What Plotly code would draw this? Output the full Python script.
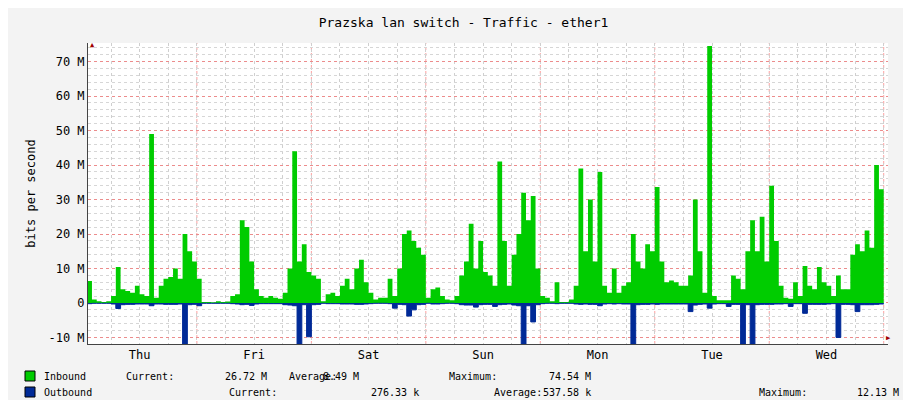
import plotly.graph_objects as go

hours = list(range(1, 169))
inbound = [6.4,1,0.5,0.3,0.5,2,10.4,4,3.5,3,5,2.5,
           2,49,1.5,5,7,7.5,10,7,20,15,12,7,
           0.3,0.3,0.2,0.5,0.3,0.4,2,2.5,24,22,12,4,
           2,1.5,2,1.5,1.2,3,10,44,12,17,9,8,
           7,0.5,2.5,3,2,5,7,4,10,12.5,6,3,
           1,1.5,1.5,7,2,10,20,21,18,16,14,1.5,
           4,4.5,2,1,0.8,2,8,12,23,10,18,9,
           8,5,41,18,5,14,20,32,24,31,10,2,
           1.5,0.5,6,0.3,0.3,1,5,39,15,30,12,38,
           5,3,10,3,5,6,20,12,10,17,15,33.6,
           12,6,6.5,6,5,5,8,30,15,3,74.54,2,
           0.8,0.8,0.8,8,7,4,15,24,15,25,12,34,
           18,5,1.5,1.2,6,2,10.7,5,4,10.4,6,5,
           2,8,4,4,14,17,15,21,16,40,33,26.72]
outbound = [0.2,0.1,0.1,0.1,0.1,0.3,1.6,0.5,0.4,0.4,0.3,0.3,
            0.3,0.8,0.3,0.3,0.4,0.4,0.4,0.3,12.13,0.5,0.4,0.8,
            0.1,0.1,0.1,0.1,0.1,0.1,0.2,0.3,0.5,0.4,0.7,0.3,
            0.2,0.2,0.2,0.2,0.2,0.5,0.6,0.8,12,0.5,9.8,0.5,
            0.4,0.1,0.2,0.2,0.2,0.3,0.3,0.3,0.4,0.4,0.3,0.2,
            0.1,0.1,0.1,0.2,1.5,0.4,0.5,3.8,2,0.5,0.4,0.1,
            0.3,0.3,0.2,0.1,0.1,0.2,0.5,0.6,0.6,1.2,0.5,0.4,
            0.4,1,0.5,0.4,0.3,0.6,0.8,12,0.8,5.5,0.5,0.2,
            0.1,0.1,0.2,0.1,0.1,0.1,0.3,0.4,0.3,0.4,0.4,0.8,
            0.3,0.2,0.3,0.2,0.3,0.3,12,0.5,0.4,0.4,0.3,0.4,
            0.3,0.3,0.3,0.3,0.3,0.3,2.5,0.6,0.4,0.3,1.5,0.3,
            0.2,0.2,1,0.4,0.4,12,0.5,12,0.5,0.4,0.4,0.4,
            0.3,0.3,0.2,1,0.2,0.2,3,0.4,0.4,0.4,0.4,0.3,
            0.2,10,0.4,0.4,0.5,2.5,0.5,0.5,0.5,0.4,0.3,0.28]
day_labels = ["Thu", "Fri", "Sat", "Sun", "Mon", "Tue", "Wed"]
day_noons = [12, 36, 60, 84, 108, 132, 156]
midnights = [24, 48, 72, 96, 120, 144, 168]
y_ticks = [-10, 0, 10, 20, 30, 40, 50, 60, 70]
y_labels = ["-10 M", "0", "10 M", "20 M", "30 M", "40 M", "50 M", "60 M", "70 M"]
legend_rows = [
    [("Inbound", 34, "left"), ("Current:", 116, "left"), ("26.72 M", 261, "right"),
     ("Average:", 279, "left"), ("8.49 M", 353, "right"), ("Maximum:", 439, "left"), ("74.54 M", 585, "right")],
    [("Outbound", 34, "left"), ("Current:", 219, "left"), ("276.33 k", 413, "right"),
     ("Average:", 484, "left"), ("537.58 k", 585, "right"), ("Maximum:", 749, "left"), ("12.13 M", 893, "right")],
]
legend_colors = ["#00cc00", "#002a97"]

MONO = "DejaVu Sans Mono"
L, R, T, B = 80, 880, 35, 336
W, H = 911, 400

fig = go.Figure()
fig.add_trace(go.Scatter(x=hours, y=inbound, mode="lines", line=dict(shape="hv", width=0, color="#00cc00"),
                         fill="tozeroy", fillcolor="#00cc00", hoverinfo="skip"))
fig.add_trace(go.Scatter(x=hours, y=[-v for v in outbound], mode="lines", line=dict(shape="hv", width=1, color="#002a97"),
                         fill="tozeroy", fillcolor="#002a97", hoverinfo="skip"))

for m in midnights:
    fig.add_shape(type="line", x0=m, x1=m, y0=0, y1=1, xref="x", yref="paper", layer="below",
                  line=dict(color="rgba(255,80,80,0.55)", width=1, dash="dot"))

fig.update_layout(
    width=W, height=H, showlegend=False,
    margin=dict(l=L, r=W - R, t=T, b=H - B, autoexpand=False),
    paper_bgcolor="#f3f3f3", plot_bgcolor="#ffffff",
    font=dict(family=MONO, size=12, color="#000"),
    title=dict(text="Prazska lan switch - Traffic - ether1", x=0.5, xanchor="center", y=0.965, yanchor="middle",
               font=dict(family=MONO, size=13)),
    xaxis=dict(range=[1.17, 168.9], tickvals=day_noons, ticktext=day_labels, showgrid=False, zeroline=False,
               automargin=False, showline=True, linecolor="#444", ticks="", tickfont=dict(family=MONO, size=12),
               minor=dict(dtick=6, tick0=0, showgrid=True, gridcolor="#cfcfcf", griddash="dot", gridwidth=1)),
    yaxis=dict(range=[-11.9, 75.4], tickvals=y_ticks, ticktext=y_labels, showgrid=True, automargin=False,
               gridcolor="rgba(255,80,80,0.55)", griddash="dot", zeroline=False, showline=True, linecolor="#444",
               ticks="", tickfont=dict(family=MONO, size=12),
               title=dict(text="bits per second", font=dict(family=MONO, size=12), standoff=10),
               minor=dict(dtick=2, tick0=0, showgrid=True, gridcolor="#d6d6d6", griddash="dot", gridwidth=1)),
)

def px(x):
    return (x - L) / (R - L)

def py(y):
    return (B - y) / (B - T)

for i, row in enumerate(legend_rows):
    ypix = 368 + 16 * i
    fig.add_shape(type="rect", xref="paper", yref="paper", x0=px(17), x1=px(27), y0=py(ypix + 5), y1=py(ypix - 5),
                  fillcolor=legend_colors[i], line=dict(color="#000", width=1))
    for text, xpos, anchor in row:
        fig.add_annotation(text=text, x=px(xpos), y=py(ypix), xref="paper", yref="paper", xanchor=anchor,
                           yanchor="middle", showarrow=False, font=dict(family=MONO, size=10))

fig.add_annotation(text="RRDTOOL / TOBI OETIKER", x=px(903), y=py(T - 3), xref="paper", yref="paper", textangle=90,
                   xanchor="center", yanchor="top", showarrow=False, font=dict(family=MONO, size=8, color="#aaaaaa"))
fig.add_annotation(text="▲", x=px(80), y=py(31), xref="paper", yref="paper", showarrow=False,
                   font=dict(size=7, color="#a00000"))
fig.add_annotation(text="▶", x=px(885), y=py(336), xref="paper", yref="paper", showarrow=False,
                   font=dict(size=7, color="#a00000"))

fig.write_html("out.html")
